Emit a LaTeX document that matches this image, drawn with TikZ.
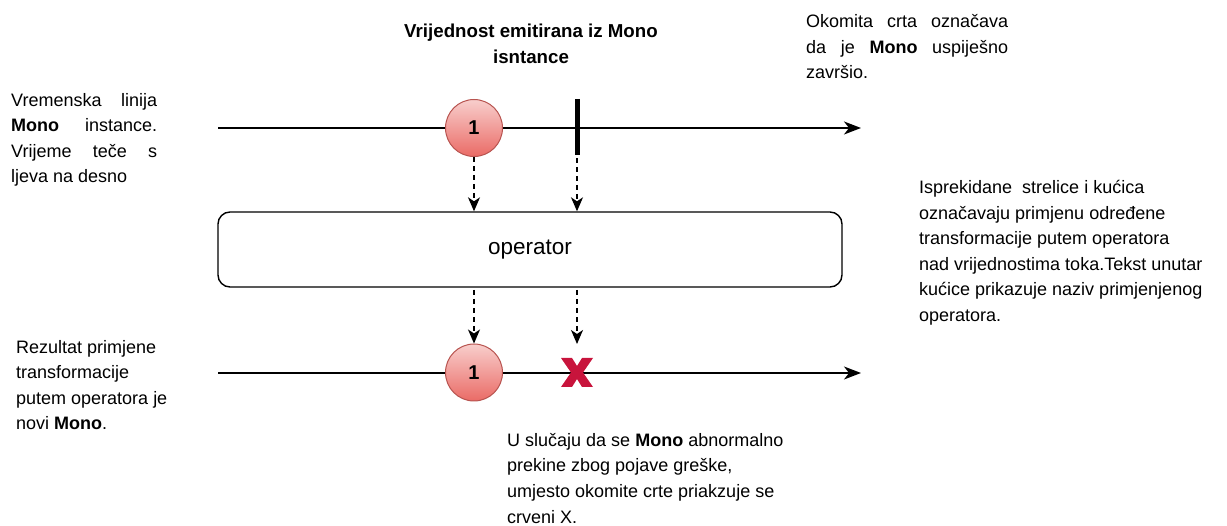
\documentclass[tikz,border=0pt]{standalone}
\usepackage{fontspec}
\setmainfont{Liberation Sans}
\usetikzlibrary{arrows.meta}
\definecolor{circstroke}{HTML}{B85450}
\definecolor{circtop}{HTML}{F8CECC}
\definecolor{circbot}{HTML}{EA6B66}
\definecolor{xred}{HTML}{C8143C}
\tikzset{
  timeline/.style={line width=1.4pt,-{Stealth[length=17pt,width=13pt,inset=5pt]}},
  dasharrow/.style={line width=1.3pt,dash pattern=on 5pt off 4pt,-{Stealth[length=14pt,width=12pt,inset=4pt]}},
  valcircle/.style={circle,draw=circstroke,line width=1pt,top color=circtop,bottom color=circbot,minimum size=57pt,inner sep=0pt,font=\fontsize{20}{20}\selectfont\bfseries},
  opbox/.style={draw,line width=1.4pt,rounded corners=12pt,minimum width=624pt,minimum height=75pt,inner sep=0pt,font=\fontsize{22.5}{24}\selectfont},
  note/.style={inner sep=0pt,align=left,font=\fontsize{18}{25.6}\selectfont},
  errmark/.style={fill=xred,draw=none},
}
\begin{document}
\begin{tikzpicture}[x=1pt,y=-1pt]
\useasboundingbox (0,0) rectangle (1227,526);
% top timeline
\coordinate (t1s) at (218,128);
\coordinate (t1e) at (861,128);
\draw[timeline] (t1s) -- (t1e);
\node[valcircle] (c1) at (474,128) {1};
\coordinate (bart) at (577,99);
\coordinate (barb) at (577,155);
\draw[line width=5pt] (bart) -- (barb);
% operator box
\node[opbox] (op) at (530,249.5) {operator};
% dashed arrows top
\coordinate (d2s) at (577,158);
\draw[dasharrow] (c1.south) -- (c1.south |- op.north);
\draw[dasharrow] (d2s) -- (d2s |- op.north);
% bottom timeline
\coordinate (t2s) at (218,373);
\coordinate (t2e) at (861,373);
\draw[timeline] (t2s) -- (t2e);
\node[valcircle] (c2) at (474,372.5) {1};
% red X
\node[inner sep=0pt,minimum width=32pt,minimum height=29pt] (err) at (577,372.5) {};
\fill[errmark] (561,358) -- (572,358) -- (577,366) -- (582,358) -- (593,358) -- (583,372.5)
  -- (593,387) -- (582,387) -- (577,379) -- (572,387) -- (561,387) -- (571,372.5) -- cycle;
% dashed arrows bottom
\coordinate (d3s) at (474,290);
\coordinate (d4s) at (577,290);
\coordinate (d4e) at (577,344);
\draw[dasharrow] (d3s) -- (c2.north);
\draw[dasharrow] (d4s) -- (d4e);
% texts (base anchor = baseline of last line)
\node[note,anchor=base,align=center,font=\fontsize{18.7}{26}\selectfont\bfseries] (title) at (531,64)
  {Vrijednost emitirana iz Mono\\isntance};
\node[note,anchor=base west] (lefttop) at (11,183)
  {\makebox[146pt][s]{Vremenska linija}\\\makebox[146pt][s]{\textbf{Mono} instance.}\\\makebox[146pt][s]{Vrijeme teče s}\\ljeva na desno};
\node[note,anchor=base west] (topright) at (806,79)
  {\makebox[202pt][s]{Okomita crta označava}\\\makebox[202pt][s]{da je \textbf{Mono} uspiješno}\\završio.};
\node[note,anchor=base west] (right) at (919,321.5)
  {Isprekidane~ strelice i kućica\\označavaju primjenu određene\\transformacije putem operatora\\nad vrijednostima toka.Tekst unutar\\kućice prikazuje naziv primjenjenog\\operatora.};
\node[note,anchor=base west] (botleft) at (16,430)
  {Rezultat primjene\\transformacije\\putem operatora je\\novi \textbf{Mono}.};
\node[note,anchor=base west] (bottom) at (507,523)
  {U slučaju da se \textbf{Mono} abnormalno\\prekine zbog pojave greške,\\umjesto okomite crte priakzuje se\\crveni X.};
\end{tikzpicture}
\end{document}
